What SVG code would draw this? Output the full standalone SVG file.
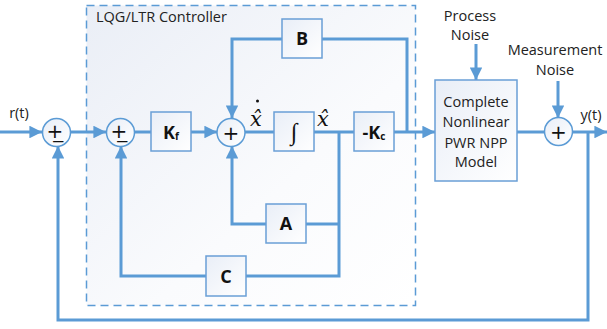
<svg xmlns="http://www.w3.org/2000/svg" width="607" height="329" viewBox="0 0 607 329">
<defs>
  <linearGradient id="ctrlFill" x1="0" y1="0" x2="1" y2="1">
    <stop offset="0" stop-color="#eaeef6"/>
    <stop offset="0.6" stop-color="#fafbfd"/>
    <stop offset="1" stop-color="#ffffff"/>
  </linearGradient>
  <linearGradient id="boxFill" x1="0" y1="0" x2="1" y2="1">
    <stop offset="0" stop-color="#e9eef7"/>
    <stop offset="1" stop-color="#ffffff"/>
  </linearGradient>
  <marker id="arr" viewBox="0 0 10 10" refX="10" refY="5" markerWidth="4.2" markerHeight="4.2" orient="auto" markerUnits="strokeWidth">
    <path d="M0,0 L10,5 L0,10 z" fill="#5b9bd5"/>
  </marker>
</defs>
<style>
  .wire { fill: none; stroke: #5b9bd5; stroke-width: 3; }
  .box { fill: url(#boxFill); stroke: #6a9fd6; stroke-width: 1.5; }
  .sum { fill: url(#boxFill); stroke: #5b9bd5; stroke-width: 1.5; }
  .lbl { font-family: "Open Sans", "Liberation Sans", sans-serif; font-size: 14.5px; fill: #222; }
  .blk { font-family: "Open Sans", "Liberation Sans", sans-serif; font-size: 18px; font-weight: bold; fill: #111; text-anchor: middle; }
  .sym { font-family: "DejaVu Sans", sans-serif; font-size: 20px; fill: #111; text-anchor: middle; }
  .math { font-family: "DejaVu Serif", "Liberation Serif", serif; font-style: italic; font-size: 21px; fill: #111; text-anchor: middle; }
</style>

<g id="controller">
  <rect x="86.5" y="5.5" width="329" height="300" fill="url(#ctrlFill)" stroke="#5b9bd5" stroke-width="1.5" stroke-dasharray="8,5"/>
  <text class="lbl" x="96" y="22">LQG/LTR Controller</text>
</g>

<g id="connectors">
  <line class="wire" x1="0" y1="132" x2="42" y2="132" marker-end="url(#arr)"/>
  <line class="wire" x1="70" y1="132" x2="106" y2="132" marker-end="url(#arr)"/>
  <line class="wire" x1="134" y1="132" x2="151" y2="132"/>
  <line class="wire" x1="191" y1="132" x2="217" y2="132" marker-end="url(#arr)"/>
  <line class="wire" x1="245" y1="132" x2="274" y2="132"/>
  <line class="wire" x1="314" y1="132" x2="354" y2="132"/>
  <line class="wire" x1="394" y1="132" x2="435" y2="132" marker-end="url(#arr)"/>
  <polyline class="wire" points="407,132 407,39 322,39"/>
  <polyline class="wire" points="282,39 232,39 232,118" marker-end="url(#arr)"/>
  <polyline class="wire" points="339,132 339,276 246,276"/>
  <line class="wire" x1="339" y1="224" x2="306" y2="224"/>
  <polyline class="wire" points="266,224 232,224 232,146" marker-end="url(#arr)"/>
  <polyline class="wire" points="206,276 121,276 121,146" marker-end="url(#arr)"/>
  <line class="wire" x1="517" y1="132" x2="544" y2="132"/>
  <line class="wire" x1="572" y1="132" x2="607" y2="132" marker-end="url(#arr)"/>
  <polyline class="wire" points="588,132 588,320 58,320 58,146" marker-end="url(#arr)"/>
  <line class="wire" x1="476" y1="44" x2="476" y2="80" marker-end="url(#arr)"/>
  <line class="wire" x1="558" y1="81" x2="558" y2="118" marker-end="url(#arr)"/>
</g>

<g id="sum1">
  <circle class="sum" cx="56.5" cy="132.5" r="14"/>
  <text class="sym" x="55" y="138">+&#x332;</text>
</g>
<g id="sum2">
  <circle class="sum" cx="120.5" cy="132.5" r="14"/>
  <text class="sym" x="119" y="138">+&#x332;</text>
</g>
<g id="Kf">
  <rect class="box" x="151" y="112" width="40" height="39"/>
  <text class="blk" x="171" y="139">K<tspan font-size="10" dy="1">f</tspan></text>
</g>
<g id="sum3">
  <circle class="sum" cx="231" cy="132.5" r="14"/>
  <text class="sym" x="231" y="139.5">+</text>
</g>
<g id="xdot">
  <text class="math" x="256" y="126">x&#x302;</text>
  <circle cx="257.5" cy="101" r="1.5" fill="#111"/>
</g>
<g id="integrator">
  <rect class="box" x="274" y="112" width="40" height="39"/>
  <text x="294" y="140" font-family="Liberation Serif, DejaVu Serif, serif" font-size="24" fill="#111" text-anchor="middle">∫</text>
</g>
<g id="xhat">
  <text class="math" x="323" y="126">x&#x302;</text>
</g>
<g id="Kc">
  <rect class="box" x="354" y="112" width="40" height="39"/>
  <text class="blk" x="374" y="139">-K<tspan font-size="10" dy="1">c</tspan></text>
</g>
<g id="B">
  <rect class="box" x="282" y="19" width="40" height="39"/>
  <text class="blk" x="302" y="45">B</text>
</g>
<g id="A">
  <rect class="box" x="266" y="204" width="40" height="39"/>
  <text class="blk" x="286" y="230">A</text>
</g>
<g id="C">
  <rect class="box" x="206" y="256" width="40" height="40"/>
  <text class="blk" x="226" y="283">C</text>
</g>
<g id="plant">
  <rect class="box" x="435" y="80" width="82" height="101"/>
  <text class="lbl" text-anchor="middle" x="476" y="107">Complete</text>
  <text class="lbl" text-anchor="middle" x="476" y="127">Nonlinear</text>
  <text class="lbl" text-anchor="middle" x="476" y="148">PWR NPP</text>
  <text class="lbl" text-anchor="middle" x="476" y="167">Model</text>
</g>
<g id="sum4">
  <circle class="sum" cx="558.5" cy="131.5" r="14"/>
  <text class="sym" x="558.5" y="138.5">+</text>
</g>
<g id="labels">
  <text class="lbl" x="19" y="118" text-anchor="middle">r(t)</text>
  <text class="lbl" x="591" y="120" text-anchor="middle">y(t)</text>
  <text class="lbl" x="470" y="21" text-anchor="middle">Process</text>
  <text class="lbl" x="470" y="40" text-anchor="middle">Noise</text>
  <text class="lbl" x="555" y="55" text-anchor="middle">Measurement</text>
  <text class="lbl" x="555" y="75" text-anchor="middle">Noise</text>
</g>
</svg>
